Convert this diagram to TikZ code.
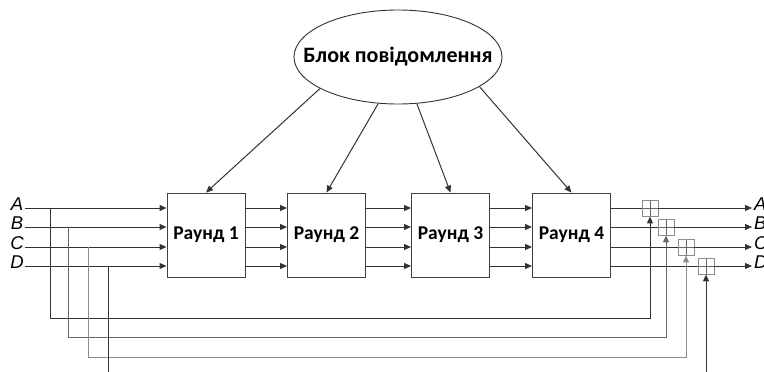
\documentclass[tikz,border=0pt]{standalone}
\usepackage{fontspec}
\setmainfont{Carlito}
\newfontfamily\latinsans{Liberation Sans}
\usetikzlibrary{arrows.meta,shapes.geometric,calc}

\begin{document}
\begin{tikzpicture}[x=1pt,y=-1pt,
  wire/.style={draw=black!80, line width=1pt},
  arr/.style={wire,-{Triangle[length=7pt,width=6pt]}},
  roundbox/.style={draw=black!75, line width=0.9pt, minimum width=78pt,
    minimum height=84pt, inner sep=0pt, font=\fontsize{19.5}{21}\selectfont\bfseries},
  msgnode/.style={ellipse, draw=black!80, line width=0.9pt, minimum width=208pt,
    minimum height=94pt, inner xsep=-22pt, inner ysep=0pt,
    font=\fontsize{22}{24}\selectfont\bfseries},
  xorbox/.style={draw=black!45, line width=0.8pt, minimum size=16pt, inner sep=0pt,
    fill=white, path picture={\draw[black!60, line width=0.8pt]
      (path picture bounding box.north) -- (path picture bounding box.south)
      (path picture bounding box.west) -- (path picture bounding box.east);}},
  letter/.style={font=\latinsans\itshape\fontsize{18.5}{20}\selectfont, inner sep=0pt}
]
\useasboundingbox (0,0) rectangle (764,372);

% message block
\node[msgnode] (msg) at (398,57) {Блок повідомлення};

% rounds
\node[roundbox] (r1) at (206,235) {Раунд 1};
\node[roundbox] (r2) at (326.5,235) {Раунд 2};
\node[roundbox] (r3) at (450.5,235) {Раунд 3};
\node[roundbox] (r4) at (571.5,235) {Раунд 4};

% key material into each round
\draw[arr] (msg.202) -- (r1.north);
\draw[arr] (msg.247) -- (r2.north);
\draw[arr] (msg.292) -- (r3.north);
\draw[arr] (msg.340) -- (r4.north);

% input words
\node[letter] (lA) at (17,204) {A};
\node[letter] (lB) at (17,223) {B};
\node[letter] (lC) at (17,243) {C};
\node[letter] (lD) at (17,262) {D};
\coordinate (inA) at (25,208);
\coordinate (inB) at (25,227);
\coordinate (inC) at (25,247);
\coordinate (inD) at (25,266);

\foreach \s in {A,B,C,D}{
  \draw[arr] (in\s) -- (r1.west |- in\s);
  \draw[arr] (r1.east |- in\s) -- (r2.west |- in\s);
  \draw[arr] (r2.east |- in\s) -- (r3.west |- in\s);
  \draw[arr] (r3.east |- in\s) -- (r4.west |- in\s);
}

% modular adders
\node[xorbox] (xA) at (650,208) {};
\node[xorbox] (xB) at (666,227) {};
\node[xorbox] (xC) at (686,247) {};
\node[xorbox] (xD) at (706,266) {};

% outputs
\coordinate (outA) at (752,208);
\coordinate (outB) at (752,227);
\coordinate (outC) at (752,247);
\coordinate (outD) at (752,266);
\foreach \s in {A,B,C,D}{
  \draw[wire] (r4.east |- in\s) -- (x\s.west);
  \draw[arr] (x\s.east) -- (out\s);
}
\node[letter, anchor=west] (oA) at (754,204) {A};
\node[letter, anchor=west] (oB) at (754,223) {B};
\node[letter, anchor=west] (oC) at (754,243) {C};
\node[letter, anchor=west] (oD) at (754,262) {D};

% feed-forward of the input words
\coordinate (tA) at (50,208);
\coordinate (tB) at (68,227);
\coordinate (tC) at (88,247);
\coordinate (tD) at (108,266);
\coordinate (bA) at (50,318);
\coordinate (bB) at (68,337);
\coordinate (bC) at (88,357);
\coordinate (bD) at (108,380);
\draw[arr] (tA) -- (bA) -| (xA.south);
\draw[arr, draw=black!60] (tB) -- (bB) -| (xB.south);
\draw[arr, draw=black!45] (tC) -- (bC) -| (xC.south);
\draw[arr] (tD) -- (bD) -| (xD.south);
\end{tikzpicture}
\end{document}
